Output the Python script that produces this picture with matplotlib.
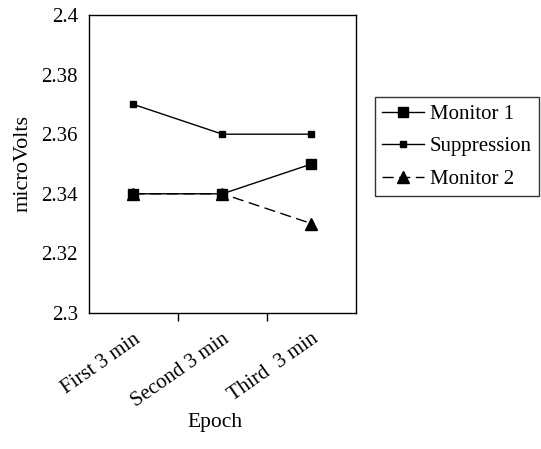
import matplotlib
matplotlib.use("Agg")
import matplotlib.pyplot as plt

epochs = ["First 3 min", "Second 3 min", "Third  3 min"]
monitor1 = [2.34, 2.34, 2.35]
suppression = [2.37, 2.36, 2.36]
monitor2 = [2.34, 2.34, 2.33]
yticks = [2.3, 2.32, 2.34, 2.36, 2.38, 2.4]
ytick_labels = ["2.3", "2.32", "2.34", "2.36", "2.38", "2.4"]

plt.rcParams["font.family"] = ["Liberation Serif", "DejaVu Serif"]

fig = plt.figure(figsize=(5.41, 4.49), dpi=100)
ax = fig.add_axes([0.1645, 0.3029, 0.4935, 0.6637])

x = list(range(len(epochs)))
ax.plot(x, monitor2, color="black", lw=1, ls=(0, (8, 4)), marker="^",
        ms=8, label="Monitor 2", zorder=2)
ax.plot(x, suppression, color="black", lw=1, marker="s", ms=4,
        label="Suppression", zorder=3)
ax.plot(x, monitor1, color="black", lw=1, marker="s", ms=7,
        label="Monitor 1", zorder=4)

ax.set_xlim(-0.5, 2.5)
ax.set_ylim(2.3, 2.4)
ax.set_yticks(yticks)
ax.set_yticklabels(ytick_labels, fontsize=15)
ax.set_yticks([2.3, 2.4], minor=True)
ax.tick_params(axis="y", which="major", length=0, pad=8)
ax.tick_params(axis="y", which="minor", length=4, width=1)

ax.set_xticks(x)
ax.set_xticklabels(epochs, rotation=35, ha="right", rotation_mode="anchor",
                   fontsize=15)
ax.set_xticks([0.5, 1.5], minor=True)
ax.tick_params(axis="x", which="major", length=0, pad=12)
ax.tick_params(axis="x", which="minor", length=6, width=1)

for s in ax.spines.values():
    s.set_linewidth(1)

ax.set_ylabel("microVolts", fontsize=16, labelpad=6)
fig.text(0.397, 0.058, "Epoch", fontsize=15.5, ha="center", va="center")

handles, labels = ax.get_legend_handles_labels()
order = [2, 1, 0]
leg = fig.legend([handles[i] for i in order], [labels[i] for i in order],
                 loc="upper left", bbox_to_anchor=(0.693, 0.784),
                 fontsize=15, frameon=True, fancybox=False,
                 edgecolor="black", handlelength=2.0, handletextpad=0.3,
                 labelspacing=0.62, borderpad=0.35, borderaxespad=0)
leg.get_frame().set_linewidth(1)

fig.savefig("out.png", dpi=100)
